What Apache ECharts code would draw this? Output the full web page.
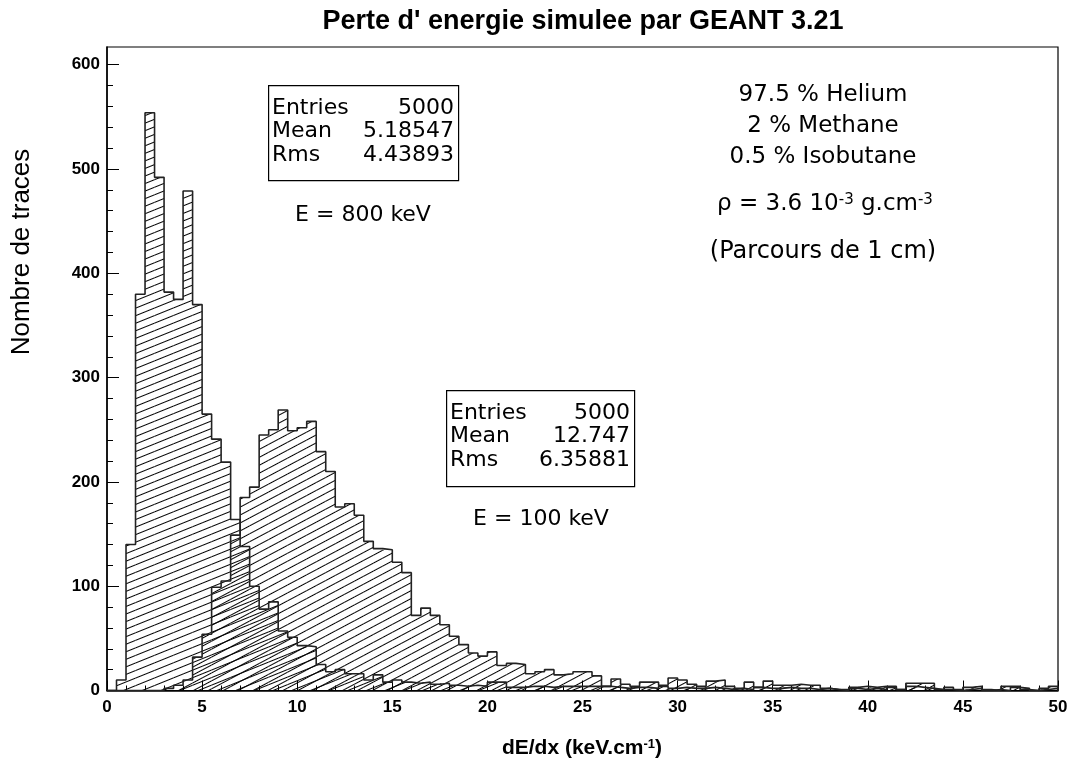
<!DOCTYPE html>
<html>
<head>
<meta charset="utf-8">
<script src="https://cdn.jsdelivr.net/npm/echarts@6/dist/echarts.min.js"></script>
<style>
  html, body { margin: 0; padding: 0; background: #fff; }
  #chart { width: 1072px; height: 764px; }
</style>
</head>
<body>
<div id="chart"></div>
<script>
// dE/dx histograms, 100 bins of 0.5 keV/cm between 0 and 50
const binEdges = Array.from({ length: 101 }, (_, i) => i * 0.5);

// E = 800 keV
const counts800 = [
  0, 10, 140, 380, 554, 492, 382, 375, 479, 370,
  265, 241, 219, 164, 138, 100, 78, 85, 57, 51,
  43, 42, 25, 18, 20, 16, 16, 10, 15, 8,
  10, 8, 7, 8, 6, 7, 5, 4, 5, 4,
  8, 8, 3, 3, 4, 4, 3, 4, 4, 4,
  4, 4, 4, 3, 2, 3, 3, 2, 4, 2,
  3, 2, 2, 3, 2, 1, 2, 1, 3, 2,
  2, 3, 2, 2, 1, 2, 1, 0, 2, 1,
  2, 1, 3, 1, 4, 3, 2, 1, 1, 0,
  1, 2, 0, 1, 0, 3, 2, 0, 1, 2
];

// E = 100 keV
const counts100 = [
  0, 0, 0, 0, 0, 0, 2, 5, 10, 32,
  54, 99, 105, 149, 185, 195, 245, 250, 269, 249,
  252, 258, 229, 210, 176, 179, 168, 143, 136, 135,
  123, 113, 72, 79, 72, 63, 52, 44, 36, 33,
  37, 24, 26, 25, 16, 18, 20, 15, 16, 18,
  18, 14, 4, 11, 6, 4, 8, 8, 5, 12,
  10, 6, 4, 9, 10, 4, 2, 8, 3, 9,
  5, 5, 6, 5, 5, 2, 1, 1, 3, 4,
  3, 4, 4, 1, 7, 7, 7, 1, 3, 1,
  3, 4, 1, 0, 4, 4, 1, 0, 2, 4
];

const yMajorTicks = [0, 100, 200, 300, 400, 500, 600];
const yMinorTicks = [];
for (let v = 20; v < 617; v += 20) if (v % 100 !== 0) yMinorTicks.push(v);

const stats800 = [['Entries', '5000'], ['Mean', '5.18547'], ['Rms', '4.43893']];
const stats100 = [['Entries', '5000'], ['Mean', '12.747'], ['Rms', '6.35881']];
const gasLines = ['97.5 % Helium', '2 % Methane', '0.5 % Isobutane'];

// diagonal hatching: a thin horizontal line tile, rotated
function hatch(spacing, angleDeg) {
  const c = document.createElement('canvas');
  c.width = 16;
  c.height = spacing;
  const g = c.getContext('2d');
  g.fillStyle = '#000';
  g.fillRect(0, 0, 16, 1);
  return { image: c, repeat: 'repeat', rotation: -angleDeg * Math.PI / 180 };
}

function binData(counts) {
  return counts.map((v, i) => [binEdges[i], binEdges[i + 1], v]);
}
function outline(counts) {
  const pts = [[binEdges[0], 0]];
  counts.forEach((v, i) => pts.push([binEdges[i], v]));
  pts.push([binEdges[binEdges.length - 1], 0]);
  return pts;
}
function histSeries(counts, pattern) {
  return {
    type: 'custom',
    coordinateSystem: 'cartesian2d',
    silent: true,
    data: binData(counts),
    encode: { x: [0, 1], y: 2 },
    renderItem: (params, api) => {
      const p0 = api.coord([api.value(0), api.value(2)]);
      const p1 = api.coord([api.value(1), 0]);
      return {
        type: 'rect',
        shape: { x: p0[0], y: p0[1], width: p1[0] - p0[0], height: p1[1] - p0[1] },
        style: { fill: pattern, stroke: null }
      };
    },
    z: 2
  };
}
function outlineSeries(counts) {
  return {
    type: 'line',
    step: 'end',
    silent: true,
    symbol: 'none',
    data: outline(counts),
    lineStyle: { color: '#222', width: 1.6 },
    z: 4
  };
}

const boxFont = '"DejaVu Sans", sans-serif';
const sansFont = '"Liberation Sans", Arial, sans-serif';
function statBox(x, y, w, h, rows) {
  const els = [{
    type: 'rect', left: x, top: y, silent: true,
    shape: { width: w, height: h },
    style: { fill: '#fff', stroke: '#000', lineWidth: 1.2 }
  }];
  rows.forEach((r, k) => {
    const cy = y + 23 + k * 23.5;
    els.push({ type: 'text', x: x + 4, y: cy, silent: true,
      style: { text: r[0], font: '22px ' + boxFont, fill: '#000', align: 'left', verticalAlign: 'middle' } });
    els.push({ type: 'text', x: x + w - 4, y: cy, silent: true,
      style: { text: r[1], font: '22px ' + boxFont, fill: '#000', align: 'right', verticalAlign: 'middle' } });
  });
  return els;
}
function label(text, x, y, size, extra) {
  return { type: 'text', x: x, y: y, silent: true,
    style: Object.assign({ text: text, font: size + 'px ' + boxFont, fill: '#000', align: 'center', verticalAlign: 'middle' }, extra || {}) };
}

const chart = echarts.init(document.getElementById('chart'));
const tickFont = { fontFamily: sansFont, fontWeight: 'bold', fontSize: 17, color: '#000' };

const graphics = [].concat(
  [{ type: 'text', x: 583, y: 22, silent: true,
     style: { text: "Perte d' energie simulee par GEANT 3.21", font: 'bold 27px ' + sansFont,
              fill: '#000', align: 'center', verticalAlign: 'middle' } }],
  [{ type: 'text', x: 22, y: 252, rotation: Math.PI / 2, silent: true,
     style: { text: 'Nombre de traces', font: '26px ' + sansFont,
              fill: '#000', align: 'center', verticalAlign: 'middle' } }],
  [{ type: 'text', x: 582, y: 748, silent: true,
     style: { text: 'dE/dx (keV.cm{sup|-1})', font: 'bold 21px ' + sansFont,
              fill: '#000', align: 'center', verticalAlign: 'middle',
              rich: { sup: { fontSize: 13, fontWeight: 'bold', fontFamily: sansFont, verticalAlign: 'top' } } } }],
  statBox(268, 85, 190, 95, stats800),
  [label('E = 800 keV', 363, 215, 22)],
  statBox(446, 390, 188, 96, stats100),
  [label('E = 100 keV', 541, 519, 22)],
  gasLines.map((t, k) => label(t, 823, 95 + k * 31, 23)),
  [label('\u03c1 = 3.6 10{sup|-3} g.cm{sup|-3}', 825, 204, 23,
     { rich: { sup: { fontSize: 15, fontFamily: boxFont, verticalAlign: 'top' } } })],
  [label('(Parcours de 1 cm)', 823, 252, 24)]
);

chart.setOption({
  animation: false,
  backgroundColor: '#fff',
  grid: { left: 107, right: 14, top: 47, bottom: 73.5, show: true, borderColor: '#000', borderWidth: 1.2, backgroundColor: 'transparent' },
  xAxis: {
    type: 'value', min: 0, max: 50, interval: 5,
    axisLine: { lineStyle: { color: '#000', width: 1.5 } },
    axisTick: { inside: true, length: 10, lineStyle: { color: '#000' } },
    minorTick: { show: true, splitNumber: 5, length: 5, lineStyle: { color: '#000' } },
    axisLabel: Object.assign({ margin: 8 }, tickFont),
    splitLine: { show: false }
  },
  yAxis: [
    {
      type: 'value', min: 0, max: 617,
      axisLine: { show: true, lineStyle: { color: '#000', width: 1.5 } },
      axisTick: { show: true, inside: true, length: 12, customValues: yMajorTicks, lineStyle: { color: '#000' } },
      axisLabel: Object.assign({ margin: 7, customValues: yMajorTicks }, tickFont),
      splitLine: { show: false }
    },
    {
      type: 'value', min: 0, max: 617, position: 'left',
      axisLine: { show: false },
      axisTick: { show: true, inside: true, length: 6, customValues: yMinorTicks, lineStyle: { color: '#000' } },
      axisLabel: { show: false },
      splitLine: { show: false }
    }
  ],
  graphic: graphics,
  series: [
    histSeries(counts800, hatch(7, 22)),
    histSeries(counts100, hatch(7, 28)),
    outlineSeries(counts800),
    outlineSeries(counts100)
  ]
});
</script>
</body>
</html>
